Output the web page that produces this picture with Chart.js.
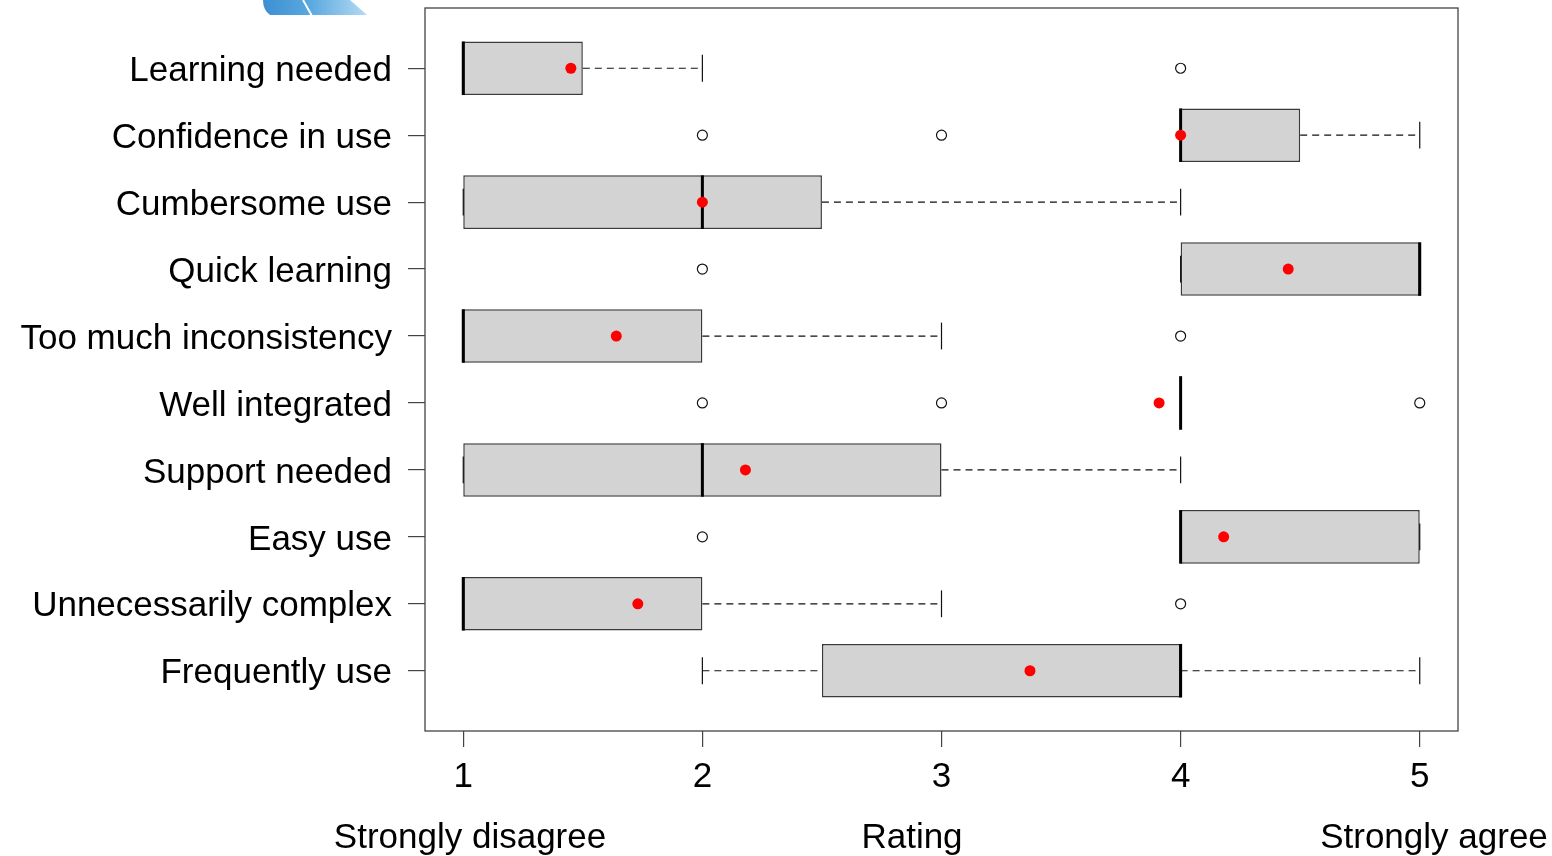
<!DOCTYPE html>
<html>
<head>
<meta charset="utf-8">
<script src="https://cdn.jsdelivr.net/npm/chart.js@4.4.1/dist/chart.umd.min.js"></script>
<style>
  html, body { margin: 0; padding: 0; background: #ffffff; }
  #wrap { width: 1552px; height: 856px; position: relative; }
</style>
</head>
<body>
<div id="wrap"><canvas id="c" width="1552" height="856"></canvas></div>
<script>
// ---- data (top to bottom as shown) ----
const categories = ['Learning needed', 'Confidence in use', 'Cumbersome use', 'Quick learning',
  'Too much inconsistency', 'Well integrated', 'Support needed', 'Easy use',
  'Unnecessarily complex', 'Frequently use'];
const q1Values = [1, 4, 1, 4, 1, 4, 1, 4, 1, 2.5];
const medianValues = [1, 4, 2, 5, 1, 4, 2, 4, 1, 4];
const q3Values = [1.5, 4.5, 2.5, 5, 2, 4, 3, 5, 2, 4];
const whiskerLow = [1, 4, 1, 4, 1, 4, 1, 4, 1, 2];
const whiskerHigh = [2, 5, 4, 5, 3, 4, 4, 5, 3, 5];
const meanValues = [1.45, 4.0, 2.0, 4.45, 1.64, 3.91, 2.18, 4.18, 1.73, 3.37];
const outlierValues = [[4], [2, 3], [], [2], [4], [2, 3, 5], [], [2], [4], []];
const xTickValues = [1, 2, 3, 4, 5];
const bottomLabels = ['Strongly disagree', 'Rating', 'Strongly agree'];

// ---- derived ----
const n = categories.length;
const pos = categories.map((_, i) => n - i);
const boxData = pos.map((p, i) => ({ x: [q1Values[i], q3Values[i]], y: p }));
const medianData = pos.map((p, i) => ({ x: medianValues[i], y: p }));
const meanData = pos.map((p, i) => ({ x: meanValues[i], y: p }));
const outlierData = [];
outlierValues.forEach((arr, i) => arr.forEach(v => outlierData.push({ x: v, y: pos[i] })));
const whiskerData = [];
pos.forEach((p, i) => {
  whiskerData.push({ x: q3Values[i], y: p }, { x: whiskerHigh[i], y: p }, { x: null, y: null });
  whiskerData.push({ x: whiskerLow[i], y: p }, { x: q1Values[i], y: p }, { x: null, y: null });
});
const stapleData = [];
pos.forEach((p, i) => {
  stapleData.push({ x: whiskerLow[i], y: p }, { x: whiskerHigh[i], y: p });
});

const FONT = "'Liberation Sans', Arial, sans-serif";

const decor = {
  id: 'decor',
  beforeDraw(chart) {
    const ctx = chart.ctx;
    ctx.save();
    const g = ctx.createLinearGradient(263, 0, 367, 0);
    g.addColorStop(0, '#3d8fd2');
    g.addColorStop(0.45, '#5aa8e0');
    g.addColorStop(1, '#b4dbf3');
    ctx.fillStyle = g;
    ctx.beginPath();
    ctx.moveTo(263, 0);
    ctx.lineTo(350, 0);
    ctx.lineTo(367, 15);
    ctx.lineTo(270, 15);
    ctx.quadraticCurveTo(263, 10, 263, 0);
    ctx.closePath();
    ctx.fill();
    ctx.strokeStyle = '#ffffff';
    ctx.lineWidth = 2;
    ctx.beginPath();
    ctx.moveTo(303, 0);
    ctx.lineTo(312, 16);
    ctx.stroke();
    ctx.restore();
  },
  afterDraw(chart) {
    const ctx = chart.ctx;
    const a = chart.chartArea;
    ctx.save();
    ctx.strokeStyle = '#444444';
    ctx.lineWidth = 1.3;
    ctx.strokeRect(a.left, a.top, a.right - a.left, a.bottom - a.top);
    ctx.fillStyle = '#000000';
    ctx.font = '35px ' + FONT;
    ctx.textAlign = 'center';
    ctx.textBaseline = 'middle';
    const xs = [470, 912, 1434];
    bottomLabels.forEach((t, i) => ctx.fillText(t, xs[i], 838));
    ctx.restore();
  }
};

new Chart(document.getElementById('c'), {
  type: 'bar',
  data: {
    datasets: [
      {
        type: 'scatter', label: 'Mean', data: meanData, order: 0,
        pointStyle: 'circle', pointRadius: 5.5, pointBorderWidth: 0,
        pointBackgroundColor: '#ff0000', pointBorderColor: '#ff0000'
      },
      {
        type: 'scatter', label: 'Median', data: medianData, order: 1,
        pointStyle: 'line', pointRotation: 90, pointRadius: 26.8,
        pointBorderWidth: 3, pointBorderColor: '#000000'
      },
      {
        type: 'scatter', label: 'Outliers', data: outlierData, order: 2,
        pointStyle: 'circle', pointRadius: 5, pointBorderWidth: 1.2,
        pointBorderColor: '#111111', pointBackgroundColor: 'rgba(255,255,255,0)'
      },
      {
        type: 'scatter', label: 'Staples', data: stapleData, order: 3,
        pointStyle: 'line', pointRotation: 90, pointRadius: 13.4,
        pointBorderWidth: 1.2, pointBorderColor: '#111111'
      },
      {
        type: 'line', label: 'Whiskers', data: whiskerData, order: 4,
        borderColor: '#111111', borderWidth: 1.2, borderDash: [7, 5],
        pointRadius: 0, spanGaps: false, fill: false, tension: 0
      },
      {
        type: 'bar', label: 'Box', data: boxData, order: 5,
        backgroundColor: '#d3d3d3', borderColor: '#3a3a3a', borderWidth: 1.5,
        borderSkipped: false, categoryPercentage: 0.8, barPercentage: 1.0
      }
    ]
  },
  options: {
    indexAxis: 'y',
    responsive: false,
    animation: false,
    events: [],
    layout: { autoPadding: false, padding: { top: 8, right: 94, left: 0, bottom: 0 } },
    plugins: { legend: { display: false }, tooltip: { enabled: false } },
    scales: {
      x: {
        type: 'linear', min: 0.84, max: 5.16, offset: false,
        afterBuildTicks: s => { s.ticks = xTickValues.map(v => ({ value: v })); },
        afterFit: s => { s.height = 125; s.paddingLeft = 0; s.paddingRight = 0; },
        grid: { offset: false, drawOnChartArea: false, drawTicks: true, tickLength: 16, color: '#444444', lineWidth: 1.2 },
        border: { display: false },
        ticks: { color: '#000000', font: { family: FONT, size: 35 }, padding: 9, maxRotation: 0 }
      },
      y: {
        type: 'linear', min: 0.1, max: 10.9, offset: false,
        afterBuildTicks: s => { s.ticks = pos.map(v => ({ value: v })); },
        afterFit: s => { s.width = 425; s.paddingTop = 0; s.paddingBottom = 0; },
        grid: { offset: false, drawOnChartArea: false, drawTicks: true, tickLength: 17, color: '#444444', lineWidth: 1.2 },
        border: { display: false },
        ticks: {
          color: '#000000', font: { family: FONT, size: 35 }, padding: 16, labelOffset: 3,
          callback: v => categories[n - v]
        }
      }
    }
  },
  plugins: [decor]
});
</script>
</body>
</html>
